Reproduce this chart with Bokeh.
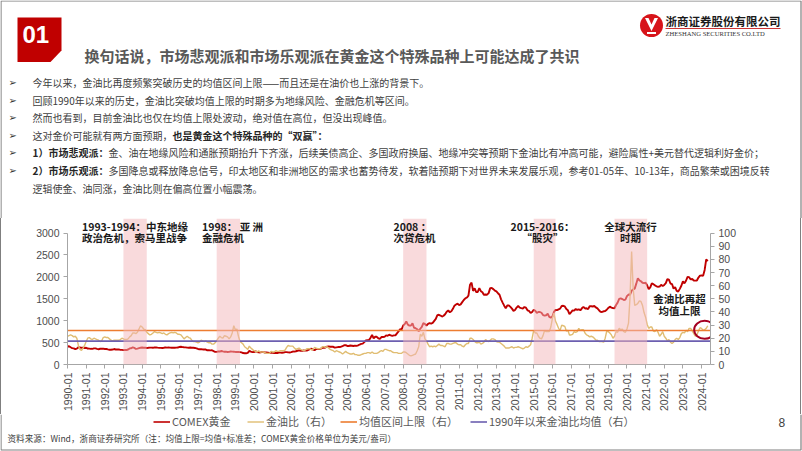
import math
from bokeh.plotting import figure
from bokeh.layouts import column, row
from bokeh.models import (Range1d, LinearAxis, FixedTicker, Label, BoxAnnotation,
                          Legend, LegendItem, CustomJSTickFormatter, Spacer)
from bokeh.core.properties import value
from bokeh.embed import file_html
from bokeh.resources import INLINE

# ---------------- data (monthly, from 1990-01) ----------------
START_YEAR = 1990
gold = [  # COMEX gold, USD/oz
    410, 417, 394, 375, 369, 352, 362, 395, 389, 381, 381, 378,
    383, 364, 363, 358, 357, 367, 368, 356, 349, 359, 360, 361,
    355, 354, 345, 338, 337, 341, 353, 343, 345, 344, 335, 334,
    329, 330, 330, 342, 367, 372, 392, 379, 355, 364, 374, 383,
    387, 382, 384, 378, 381, 386, 385, 381, 391, 389, 384, 380,
    379, 377, 382, 391, 385, 387, 386, 383, 383, 383, 386, 387,
    400, 405, 396, 393, 392, 385, 383, 387, 383, 381, 378, 369,
    355, 347, 352, 344, 344, 341, 324, 324, 323, 325, 306, 289,
    289, 297, 296, 308, 299, 292, 293, 284, 289, 296, 294, 291,
    287, 288, 286, 282, 277, 262, 256, 257, 264, 311, 293, 283,
    284, 300, 286, 280, 275, 286, 282, 275, 274, 270, 266, 272,
    266, 262, 263, 261, 272, 270, 268, 273, 283, 283, 276, 275,
    282, 296, 294, 302, 314, 322, 314, 310, 319, 317, 319, 333,
    357, 359, 340, 328, 355, 356, 351, 360, 379, 379, 389, 407,
    414, 405, 406, 404, 384, 392, 398, 400, 406, 420, 439, 442,
    424, 423, 434, 429, 422, 431, 424, 437, 456, 470, 476, 510,
    549, 555, 557, 610, 676, 596, 633, 632, 598, 586, 627, 629,
    631, 665, 655, 679, 667, 655, 665, 665, 712, 754, 806, 803,
    889, 922, 985, 909, 888, 890, 939, 839, 829, 806, 760, 816,
    858, 943, 924, 890, 928, 946, 934, 949, 996, 1043, 1127, 1135,
    1118, 1095, 1113, 1148, 1205, 1233, 1193, 1215, 1271, 1343, 1370, 1391,
    1356, 1372, 1424, 1473, 1510, 1529, 1572, 1820, 1870, 1680, 1739, 1652,
    1656, 1742, 1674, 1649, 1589, 1598, 1594, 1630, 1744, 1747, 1721, 1688,
    1671, 1627, 1593, 1487, 1414, 1343, 1286, 1347, 1349, 1316, 1275, 1225,
    1244, 1300, 1336, 1299, 1287, 1279, 1311, 1296, 1238, 1222, 1176, 1200,
    1251, 1227, 1179, 1198, 1199, 1181, 1128, 1117, 1125, 1159, 1086, 1068,
    1097, 1200, 1246, 1242, 1260, 1276, 1337, 1341, 1326, 1267, 1238, 1151,
    1192, 1234, 1231, 1266, 1246, 1260, 1237, 1283, 1315, 1280, 1283, 1265,
    1331, 1331, 1325, 1335, 1303, 1282, 1238, 1202, 1199, 1215, 1221, 1250,
    1291, 1320, 1300, 1286, 1284, 1359, 1413, 1500, 1510, 1495, 1471, 1480,
    1560, 1597, 1592, 1683, 1716, 1732, 1846, 1968, 1921, 1900, 1866, 1858,
    1867, 1808, 1718, 1760, 1850, 1834, 1807, 1785, 1776, 1777, 1821, 1790,
    1817, 1856, 1948, 1937, 1849, 1837, 1733, 1766, 1681, 1665, 1727, 1798,
    1898, 1854, 1912, 1999, 1992, 1943, 1951, 1918, 1916, 1917, 1985, 2030,
    2034, 2024, 2159, 2400, 2360,
]
gold_oil_ratio = [  # right axis
    21.5, 22.0, 22.5, 22.0, 21.0, 21.5, 20.0, 14.5, 11.5, 10.8, 12.5, 14.5,
    17.5, 20.0, 20.5, 19.5, 19.0, 20.0, 19.5, 19.0, 18.5, 17.5, 18.0, 20.5,
    21.0, 20.5, 20.5, 19.5, 18.5, 18.0, 18.5, 18.5, 18.5, 18.5, 19.0, 20.0,
    19.5, 19.0, 19.0, 19.5, 21.0, 22.0, 24.0, 24.0, 23.5, 24.5, 27.0, 29.5,
    28.5, 27.0, 26.5, 24.5, 23.5, 22.5, 23.0, 24.0, 25.0, 24.5, 24.0, 24.5,
    24.0, 23.5, 24.0, 23.0, 22.5, 23.5, 24.0, 24.5, 24.0, 24.5, 24.0, 23.0,
    23.0, 22.5, 21.0, 19.5, 20.5, 21.5, 20.5, 20.0, 18.5, 17.5, 17.5, 17.0,
    16.5, 17.0, 18.5, 18.0, 17.5, 18.0, 17.0, 16.5, 16.5, 15.5, 15.5, 16.5,
    18.0, 20.0, 21.5, 20.5, 20.0, 22.0, 21.5, 21.0, 19.5, 21.0, 24.0, 29.5,
    26.5, 27.0, 21.5, 17.5, 16.5, 15.5, 13.5, 12.5, 11.5, 14.0, 12.5, 11.5,
    10.5, 10.0, 9.5, 10.5, 9.5, 9.5, 9.5, 9.0, 8.5, 8.5, 8.5, 10.0,
    9.5, 9.5, 10.5, 10.0, 10.0, 10.5, 10.5, 10.5, 11.0, 13.0, 14.5, 14.0,
    14.0, 14.0, 12.5, 11.5, 12.0, 12.5, 11.5, 11.0, 10.5, 11.0, 12.0, 12.0,
    12.0, 11.0, 11.5, 13.0, 12.5, 12.0, 12.0, 12.0, 13.5, 13.5, 13.0, 13.5,
    12.5, 11.5, 11.0, 10.5, 9.5, 10.5, 10.0, 9.5, 9.0, 8.0, 9.0, 10.0,
    9.0, 8.5, 8.0, 8.0, 8.5, 7.5, 7.5, 7.0, 7.0, 7.5, 8.0, 8.5,
    8.5, 9.0, 9.0, 8.5, 9.5, 8.5, 8.5, 8.5, 9.0, 10.0, 10.5, 10.0,
    11.5, 11.5, 11.0, 10.5, 10.5, 9.5, 9.0, 9.0, 9.0, 8.5, 8.5, 8.5,
    9.5, 9.5, 9.0, 8.0, 7.0, 6.5, 7.0, 7.5, 8.0, 10.5, 13.5, 23.0,
    21.5, 24.5, 19.5, 18.0, 15.5, 13.5, 14.0, 13.5, 14.0, 13.5, 14.5, 15.5,
    14.5, 14.5, 14.0, 13.5, 16.0, 16.0, 15.5, 15.5, 16.0, 16.5, 16.5, 15.5,
    15.0, 15.0, 14.0, 13.5, 15.0, 16.0, 16.0, 20.0, 20.0, 19.0, 17.5, 16.5,
    16.5, 17.0, 15.5, 16.0, 17.0, 19.0, 18.0, 17.5, 18.5, 19.5, 19.5, 19.0,
    17.5, 17.0, 17.0, 16.0, 15.0, 14.0, 12.5, 12.5, 12.5, 13.0, 13.5, 12.5,
    13.0, 13.0, 13.5, 13.0, 12.5, 12.0, 12.5, 13.5, 13.0, 14.0, 15.0, 20.0,
    26.0, 24.0, 24.0, 21.5, 20.0, 19.5, 22.0, 26.0, 25.0, 25.0, 25.0, 28.5,
    35.0, 39.0, 33.0, 30.5, 27.5, 26.0, 30.0, 29.5, 29.0, 25.5, 26.0, 22.5,
    22.5, 23.0, 25.0, 24.5, 25.0, 27.5, 26.0, 26.5, 26.5, 24.0, 22.5, 22.0,
    21.0, 21.5, 21.0, 20.0, 18.5, 18.5, 17.5, 17.5, 17.5, 17.0, 20.0, 25.5,
    25.0, 24.0, 22.5, 20.0, 21.5, 25.0, 24.5, 27.5, 26.5, 27.0, 25.0, 24.5,
    27.0, 31.5, 52.0, 86.0, 58.0, 45.0, 45.5, 46.5, 48.5, 48.0, 45.0, 39.5,
    36.0, 30.5, 27.5, 28.5, 28.5, 25.5, 25.0, 26.5, 24.5, 21.5, 23.0, 25.0,
    21.5, 20.0, 18.0, 19.0, 17.0, 16.0, 17.0, 19.0, 20.0, 19.0, 20.5, 23.5,
    24.5, 24.0, 26.0, 25.0, 27.5, 27.5, 25.5, 23.5, 21.5, 22.5, 25.5, 28.0,
    27.5, 26.0, 26.5, 27.5, 29.5,
]
ratio_mean = 17.8    # 1990年以来金油比均值
ratio_upper = 25.9   # 均值区间上限 = 均值 + 标准差
crisis_periods = [("1993-01", "1994-04"), ("1998-01", "1999-04"), ("2008-01", "2009-04"),
                  ("2015-01", "2016-03"), ("2019-05", "2021-02")]
tick_years = list(range(1990, 2025))
left_ticks = [0, 500, 1000, 1500, 2000, 2500, 3000]
right_ticks = [0, 10, 20, 30, 40, 50, 60, 70, 80, 90, 100]
highlight_month = "2024-03"
highlight_ratio = 26.4
series_names = ["COMEX黄金", "金油比（右）", "均值区间上限（右）", "1990年以来金油比均值（右）"]
series_colors = ["#C00000", "#E0BD72", "#ED7D31", "#6C5FB0"]
series_widths = [1.9, 1.4, 1.6, 1.6]

# ---------------- layout constants (page pixels) ----------------
W, H = 802, 451
TOP_H = 218             # header + bullets
CHART_TOP, CHART_BOT = 218, 414
FL, FR, FB = 67, 710, 365   # plot frame left / right / bottom on page
X_START, X_END = 1990.0, 2024.48
Y_MAX, R_MAX = 3333.3, 111.11
CJK = "Noto Sans CJK SC"
LAT = "Liberation Sans"
TXT = "#404040"
FRAME = "#7F7F7F"


def ym(s):
    y, m = s.split("-")
    return int(y) + (int(m) - 1) / 12


def page_fig(h, y0):
    f = figure(width=W, height=h, output_backend="svg", toolbar_location=None, title=None,
               x_range=Range1d(0, W), y_range=Range1d(y0 + h, y0),
               x_axis_location=None, y_axis_location=None, min_border=0,
               outline_line_color=None, background_fill_color="white", border_fill_color="white")
    f.xgrid.visible = False
    f.ygrid.visible = False
    return f


def txt(f, x, y, s, size, color=TXT, bold=False, font=CJK, align="left"):
    f.text(x=[x], y=[y], text=[s], text_font=value(font), text_font_size=value(f"{size}px"),
           text_font_style="bold" if bold else "normal", text_color=color,
           text_align=align, text_baseline="middle")


# ---------------- top: header + bullets ----------------
top = page_fig(TOP_H, 0)
top.line([0.5, 0.5, 800.5, 800.5], [TOP_H, 0.5, 0.5, TOP_H], line_color=FRAME, line_width=1.2)
top.patch([17, 61, 61, 50, 17], [17, 17, 50, 61.5, 61.5], fill_color="#C00000", line_color=None)
txt(top, 22, 34, "01", 24, "white", True, LAT)
txt(top, 84, 55, "换句话说，市场悲观派和市场乐观派在黄金这个特殊品种上可能达成了共识", 15, "#595959", True)
# logo
top.circle(x=[651], y=[25], radius=11.5, fill_color="#D7141A", line_color=None)
top.patch([644.5, 648, 651, 654, 657.5, 651], [17.5, 17.5, 24, 17.5, 17.5, 30.5], fill_color="white", line_color=None)
top.patch([646.5, 655.5, 655.5, 646.5], [31.5, 31.5, 33.5, 33.5], fill_color="white", line_color=None)
txt(top, 665, 20, "浙商证券股份有限公司", 11.5, "#1A1A1A", True)
top.line([665, 780], [28, 28], line_color="#C00000", line_width=0.8)
txt(top, 665, 33, "ZHESHANG SECURITIES CO.LTD", 6.6, "#333333", False, "Liberation Serif")

BX, TX0 = 8, 32
rows = [
    (82, [(TX0, "今年以来，金油比再度频繁突破历史的均值区间上限——而且还是在油价也上涨的背景下。", False)]),
    (99.5, [(TX0, "回顾1990年以来的历史，金油比突破均值上限的时期多为地缘风险、金融危机等区间。", False)]),
    (117, [(TX0, "然而也看到，目前金油比也仅在均值上限处波动，绝对值在高位，但没出现峰值。", False)]),
    (134.6, [(TX0, "这对金价可能就有两方面预期，", False), (172, "也是黄金这个特殊品种的“双赢”：", True)]),
    (152.2, [(TX0, "1）市场悲观派：", True),
             (108, "金、油在地缘风险和通胀预期抬升下齐涨，后续美债高企、多国政府换届、地缘冲突等预期下金油比有冲高可能，避险属性+美元替代逻辑利好金价；", False)]),
    (169.8, [(TX0, "2）市场乐观派：", True),
             (108, "多国降息或释放降息信号，印太地区和非洲地区的需求也蓄势待发，软着陆预期下对世界未来发展乐观，参考01-05年、10-13年，商品繁荣或困境反转", False)]),
]
for y, parts in rows:
    txt(top, BX, y, "➢", 10, "#333333", False, "DejaVu Sans")
    for x0, t, b in parts:
        txt(top, x0, y, t, 10, "#262626" if b else TXT, b)
txt(top, TX0, 188, "逻辑使金、油同涨，金油比则在偏高位置小幅震荡。", 10, TXT)

# ---------------- chart ----------------
CW = 799  # chart figure spans page x 1..800
months = [START_YEAR + i / 12 for i in range(len(gold))]
p = figure(width=CW, height=CHART_BOT - CHART_TOP, output_backend="svg", toolbar_location=None,
           title=None, x_range=Range1d(X_START, X_END), y_range=Range1d(0, Y_MAX),
           min_border_left=FL - 1, min_border_right=800 - FR, min_border_top=FB - 147 - CHART_TOP,
           min_border_bottom=CHART_BOT - FB, outline_line_color=None,
           background_fill_color="white", border_fill_color="white")
p.extra_y_ranges = {"ratio": Range1d(0, R_MAX)}
p.xgrid.visible = False
p.ygrid.visible = False

AX = "#A6A6A6"
xa = p.xaxis[0]
xa.ticker = FixedTicker(ticks=tick_years)
xa.formatter = CustomJSTickFormatter(code="return Math.round(tick) + '-01';")
xa.major_label_orientation = math.pi / 2
ya = p.yaxis[0]
ya.ticker = FixedTicker(ticks=left_ticks)
ya.bounds = (0, 3000)
ra = LinearAxis(y_range_name="ratio", ticker=FixedTicker(ticks=right_ticks), bounds=(0, 100))
p.add_layout(ra, "right")
for a in (xa, ya, ra):
    a.axis_line_color = AX
    a.major_tick_line_color = AX
    a.major_tick_in = 0
    a.major_tick_out = 4
    a.minor_tick_line_color = None
    a.major_label_text_font = LAT
    a.major_label_text_font_size = "10.5px"
    a.major_label_text_color = "#4D4D4D"
    a.major_label_standoff = 4

p.line(months, gold, line_color=series_colors[0], line_width=series_widths[0])
p.line(months, gold_oil_ratio, line_color=series_colors[1], line_width=series_widths[1],
       y_range_name="ratio")
p.line([X_START, X_END], [ratio_upper, ratio_upper], line_color=series_colors[2],
       line_width=series_widths[2], y_range_name="ratio")
p.line([X_START, X_END], [ratio_mean, ratio_mean], line_color=series_colors[3],
       line_width=series_widths[3], y_range_name="ratio")

for a, b in crisis_periods:
    p.add_layout(BoxAnnotation(left=ym(a), right=ym(b), fill_color="#F4B6BA",
                               fill_alpha=0.5, line_color=None))

p.ellipse(x=[ym(highlight_month)], y=[highlight_ratio], width=21, height=18,
          width_units="screen", height_units="screen", fill_color=None,
          line_color="#A50021", line_width=2, y_range_name="ratio")


def clabel(px, py, s, align="left"):
    p.add_layout(Label(x=px - FL, y=FB - py, x_units="screen", y_units="screen", text=s,
                       text_font=CJK, text_font_size="10.5px", text_font_style="bold",
                       text_color="#1A1A1A", text_align=align, text_baseline="middle"))


clabel(81.5, 226.5, "1993-1994：中东地缘")
clabel(81.5, 238, "政治危机，索马里战争")
clabel(201.5, 226.5, "1998： 亚 洲")
clabel(201.5, 238, "金融危机")
clabel(393, 226.5, "2008   ：")
clabel(393, 238, "次贷危机")
clabel(542, 226.5, "2015-2016：", "center")
clabel(542, 238, "“股灾”", "center")
clabel(630, 226.5, "全球大流行", "center")
clabel(630, 238, "时期", "center")
clabel(679, 298.5, "金油比再超", "center")
clabel(679, 310.5, "均值上限", "center")

side_l = Spacer(width=1, height=CHART_BOT - CHART_TOP, styles={"background-color": FRAME})
side_r = Spacer(width=1, height=CHART_BOT - CHART_TOP, styles={"background-color": FRAME})
side_w = Spacer(width=1, height=CHART_BOT - CHART_TOP, styles={"background-color": "white"})
chart_row = row(side_l, p, side_r, side_w, spacing=0)

# ---------------- bottom: legend + source ----------------
BOT_H = H - CHART_BOT
bot = page_fig(BOT_H, CHART_BOT)
bot.line([0.5, 0.5, 800.5, 800.5], [CHART_BOT, 449.5, 449.5, CHART_BOT], line_color=FRAME, line_width=1.2)
for name, color, lw, px in zip(series_names, series_colors, series_widths, [153, 247, 340, 470]):
    # legend proxy: styled like the chart series, its points lie outside the visible range
    r = bot.line(x=[-60, -50], y=[0, 0], line_color=color, line_width=min(lw, 1.6))
    leg = Legend(items=[LegendItem(label=name, renderers=[r])], location=(px, H - 429),
                 orientation="horizontal", padding=0, margin=0, spacing=0,
                 border_line_color=None, background_fill_alpha=0,
                 glyph_width=17, glyph_height=15, label_height=15, label_standoff=2,
                 label_text_font=CJK, label_text_font_size="11px", label_text_color="#595959")
    bot.add_layout(leg)
txt(bot, 778, 421.5, "8", 12, TXT, False, LAT)
txt(bot, 7, 437.5, "资料来源：Wind，浙商证券研究所（注：均值上限=均值+标准差；COMEX黄金价格单位为美元/盎司）", 8.6, TXT)

layout = column(top, chart_row, bot, spacing=0)
open("out.html", "w").write(file_html(layout, INLINE))
